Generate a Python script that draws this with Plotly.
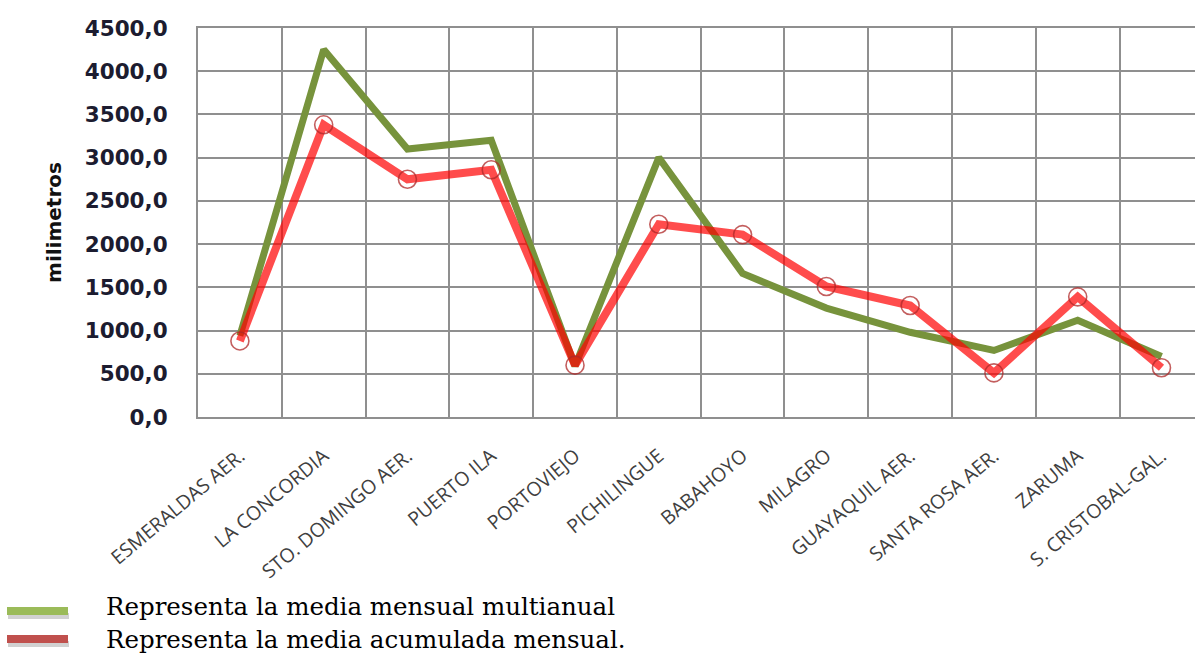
import plotly.graph_objects as go

# Estaciones y precipitación (mm)
estaciones = [
    "ESMERALDAS AER.", "LA CONCORDIA", "STO. DOMINGO AER.", "PUERTO ILA",
    "PORTOVIEJO", "PICHILINGUE", "BABAHOYO", "MILAGRO", "GUAYAQUIL AER.",
    "SANTA ROSA AER.", "ZARUMA", "S. CRISTOBAL-GAL.",
]
media_multianual = [940, 4250, 3100, 3200, 590, 3000, 1660, 1260, 980, 770, 1120, 700]
media_acumulada = [880, 3380, 2750, 2860, 600, 2230, 2110, 1510, 1290, 510, 1390, 570]

leyenda = [
    "Representa la media mensual multianual",
    "Representa la media acumulada mensual.",
]

W, H = 1195, 659
ML, MR, MT, MB = 198, 0, 28, 242
PW, PH = W - ML - MR, H - MT - MB


def px_x(x):
    return (x - ML) / PW


def px_y(y):
    return (H - MB - y) / PH


fig = go.Figure()

fig.add_trace(go.Scatter(
    x=estaciones, y=media_multianual, mode="lines",
    line=dict(color="#77933C", width=7),
    name=leyenda[0], showlegend=False,
))
fig.add_trace(go.Scatter(
    x=estaciones, y=media_acumulada, mode="lines+markers",
    line=dict(color="rgba(255,0,0,0.70)", width=8),
    marker=dict(symbol="circle-open", size=18,
                color="rgba(175,40,40,0.75)", line=dict(width=1.6)),
    name=leyenda[1], showlegend=False,
))

grid = "#8f8f8f"

fig.update_xaxes(
    type="category", tickson="boundaries",
    range=[-0.5, 11.4],
    showgrid=True, gridcolor=grid, gridwidth=2,
    showline=True, linecolor=grid, linewidth=2, mirror=True,
    ticks="", tickangle=-40, ticklabelstandoff=18,
    tickfont=dict(family="Open Sans", size=19.5, color="#404040"),
)
fig.update_yaxes(
    range=[0, 4500], dtick=500, tickformat=".1f",
    showgrid=True, gridcolor=grid, gridwidth=2, zeroline=False,
    showline=True, linecolor=grid, linewidth=2, mirror=True,
    ticks="", ticklabelstandoff=24,
    tickfont=dict(family="DejaVu Sans", size=21.5, color="#1c1c30", weight="bold"),
    title=dict(text="milimetros", standoff=18,
               font=dict(family="DejaVu Sans", size=20, color="#111111", weight="bold")),
)

# Leyenda manual: barras de color con sombra y textos descriptivos
bar_colors = ["#9BBB59", "#C0504D"]
bar_y = [611, 639]
text_y = [606, 639]
shapes = []
for c, yc in zip(bar_colors, bar_y):
    shapes.append(dict(type="rect", xref="paper", yref="paper",
                       x0=px_x(8), x1=px_x(69), y0=px_y(yc + 8), y1=px_y(yc + 2),
                       fillcolor="rgba(90,90,90,0.28)", line=dict(width=0), layer="above"))
    shapes.append(dict(type="rect", xref="paper", yref="paper",
                       x0=px_x(7), x1=px_x(68), y0=px_y(yc + 4), y1=px_y(yc - 4),
                       fillcolor=c, line=dict(width=0), layer="above"))

annotations = []
for txt, yc in zip(leyenda, text_y):
    annotations.append(dict(text=txt, xref="paper", yref="paper",
                            x=px_x(104), y=px_y(yc), xanchor="left", yanchor="middle",
                            showarrow=False,
                            font=dict(family="DejaVu Serif", size=24.5, color="#000000")))

fig.update_layout(
    width=W, height=H, autosize=False,
    margin=dict(l=ML, r=MR, t=MT, b=MB, autoexpand=False),
    paper_bgcolor="white", plot_bgcolor="white",
    separators=",.",
    shapes=shapes, annotations=annotations,
    showlegend=False,
)

fig.write_html("out.html")
